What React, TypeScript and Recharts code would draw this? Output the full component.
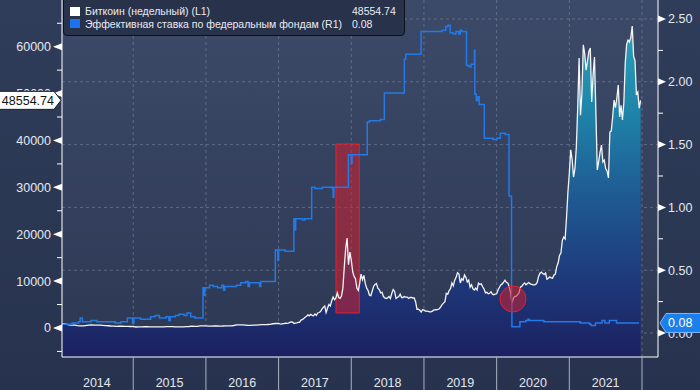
import { Area, CartesianGrid, ComposedChart, Line, ReferenceArea, ReferenceDot, XAxis, YAxis } from "recharts";

// weekly-ish bitcoin closes, spread evenly through each year
const btc2014 = [850, 900, 820, 650, 600, 620, 500, 450, 440, 520, 600, 640, 620, 600, 590, 560, 500, 480, 420, 390, 360, 370, 380, 360, 350, 320];
const btc2015 = [280, 210, 230, 240, 260, 280, 250, 225, 235, 240, 240, 250, 280, 290, 270, 230, 230, 240, 245, 280, 320, 380, 330, 360, 430, 430];
const btc2016 = [430, 390, 380, 420, 430, 415, 420, 440, 460, 450, 530, 680, 670, 660, 620, 575, 575, 600, 610, 650, 700, 730, 740, 780, 900, 960];
const btc2017 = [
  1000, 900, 830, 920, 920, 1010, 1000, 1050, 1180, 1270, 1230, 960, 1040, 1100, 1180, 1200, 1700, 1800, 2000, 2300, 2500, 2800, 2600, 2900, 2700, 2600,
  3000, 2700, 3200, 3300, 3500, 4000, 4400, 4700, 3300, 4200, 5000, 4700, 5800, 6600, 6000, 6400, 7500, 6500, 6300, 6800, 8500, 13000, 17000, 19200, 13500, 16200,
];
const btc2018 = [
  14500, 12000, 11000, 10500, 8500, 8000, 9500, 11500, 10300, 11200, 9500, 8500, 8000, 7000, 6900, 7900, 8900, 9300, 9500, 8500, 8200, 7500, 7600, 6700, 6400, 6300,
  6400, 6700, 6300, 7400, 8200, 7800, 6300, 6500, 6700, 7200, 6500, 6500, 6700, 6600, 6600, 6300, 6500, 6500, 6400, 6400, 5600, 4000, 4000, 3800, 3400, 3900,
];
const btc2019 = [
  3800, 3600, 3600, 3550, 3450, 3450, 3600, 3800, 3900, 3850, 3950, 4100, 4500, 5000, 5300, 5600, 7400, 7200, 8000, 8400, 9600, 9000, 10200, 10800, 11800, 11500,
  9600, 10500, 10200, 11300, 10800, 9800, 10200, 8700, 9200, 8400, 8100, 8500, 8100, 9600, 9300, 9400, 8800, 8300, 7500, 7600, 7300, 7400, 7700, 7200, 7100, 7200,
];
const btc2020 = [
  7300, 8100, 8700, 9200, 9400, 9800, 10200, 9700, 9600, 8800, 7500, 5300, 6400, 6700, 6800, 7100, 7500, 8700, 8900, 9300, 9600, 9200, 9500, 9700, 9400, 9300,
  9200, 9200, 9300, 9700, 11000, 11700, 11900, 11600, 11400, 11700, 10400, 10600, 10900, 10700, 10600, 11300, 11500, 13100, 13900, 15500, 16000, 18700, 19400, 19000, 23500, 29000,
];
const btc2021 = [
  33000, 38000, 36000, 32200, 34000, 38500, 47000, 57600, 45400, 50000, 60400, 58500, 55000, 57000, 59000, 59700, 48200, 54000, 57800, 46000, 33700, 35500, 37500, 39000, 35400, 35800,
  34000, 33500, 32000, 41800, 42000, 45000, 48600, 47000, 49000, 51800, 45000, 47500, 44400, 48000, 56500, 60500, 61400, 61000, 62000, 64400, 58000, 57000, 49700, 50300, 46900, 48554.74,
];
const btcYears: [number, number[]][] = [
  [2014, btc2014],
  [2015, btc2015],
  [2016, btc2016],
  [2017, btc2017],
  [2018, btc2018],
  [2019, btc2019],
  [2020, btc2020],
  [2021, btc2021],
];

// effective fed funds rate, change points (decimal years)
const ffrDates = [
  2014.0, 2014.08, 2014.16, 2014.25, 2014.27, 2014.3, 2014.42, 2014.5, 2014.58, 2014.67, 2014.75, 2014.83, 2014.92, 2014.99, 2015.01, 2015.1, 2015.17, 2015.24,
  2015.3, 2015.36, 2015.45, 2015.49, 2015.51, 2015.58, 2015.63, 2015.7, 2015.74, 2015.79, 2015.85, 2015.9, 2015.96, 2015.97, 2015.985, 2016.05, 2016.1, 2016.16,
  2016.22, 2016.245, 2016.26, 2016.35, 2016.42, 2016.48, 2016.55, 2016.58, 2016.6, 2016.66, 2016.74, 2016.755, 2016.85, 2016.955, 2016.99, 2017.0, 2017.05,
  2017.09, 2017.21, 2017.22, 2017.235, 2017.3, 2017.33, 2017.36, 2017.455, 2017.5, 2017.6, 2017.74, 2017.75, 2017.76, 2017.96, 2018.0, 2018.01, 2018.15, 2018.22,
  2018.25, 2018.4, 2018.455, 2018.5, 2018.73, 2018.75, 2018.96, 2019.0, 2019.1, 2019.25, 2019.3, 2019.33, 2019.36, 2019.4, 2019.44, 2019.48, 2019.5, 2019.52,
  2019.585, 2019.62, 2019.65, 2019.695, 2019.7, 2019.72, 2019.74, 2019.76, 2019.83, 2019.9, 2019.95, 2020.0, 2020.05, 2020.09, 2020.12, 2020.17, 2020.205,
  2020.21, 2020.28, 2020.32, 2020.4, 2020.43, 2020.45, 2020.55, 2020.65, 2020.75, 2020.85, 2020.95, 2021.05, 2021.15, 2021.28, 2021.3, 2021.33, 2021.36,
  2021.45, 2021.47, 2021.49, 2021.55, 2021.65, 2021.8, 2021.96,
];
const ffrValues = [
  0.07, 0.07, 0.08, 0.09, 0.12, 0.09, 0.1, 0.09, 0.09, 0.09, 0.08, 0.09, 0.12, 0.08, 0.12, 0.11, 0.11, 0.13,
  0.14, 0.12, 0.13, 0.1, 0.13, 0.14, 0.15, 0.14, 0.16, 0.13, 0.12, 0.12, 0.36, 0.3, 0.36, 0.38, 0.37, 0.36,
  0.38, 0.34, 0.37, 0.37, 0.38, 0.4, 0.41, 0.37, 0.4, 0.4, 0.37, 0.41, 0.41, 0.66, 0.58, 0.66, 0.66,
  0.65, 0.91, 0.82, 0.91, 0.91, 0.9, 0.91, 1.16, 1.15, 1.16, 1.15, 1.08, 1.16, 1.42, 1.35, 1.42, 1.42, 1.68,
  1.69, 1.7, 1.91, 1.91, 2.18, 2.22, 2.4, 2.4, 2.4, 2.41, 2.44, 2.45, 2.39, 2.38, 2.4, 2.38, 2.41, 2.4,
  2.13, 2.12, 2.14, 2.25, 1.9, 1.85, 1.88, 1.82, 1.55, 1.55, 1.54, 1.55, 1.59, 1.59, 1.58, 1.09, 0.25,
  0.05, 0.05, 0.09, 0.1, 0.11, 0.1, 0.1, 0.09, 0.09, 0.09, 0.09, 0.09, 0.08, 0.07, 0.06, 0.06, 0.08,
  0.1, 0.1, 0.08, 0.1, 0.08, 0.08, 0.08,
];

const btcLast = 48554.74;
const ffrLast = 0.08;

const xTicks = [2014.5, 2015, 2015.5, 2016, 2016.5, 2017, 2017.5, 2018, 2018.5, 2019, 2019.5, 2020, 2020.5, 2021, 2021.5, 2022];
const yearLines = [2015, 2016, 2017, 2018, 2019, 2020, 2021, 2022];
const leftTicks = [-5000, 0, 5000, 10000, 15000, 20000, 25000, 30000, 35000, 40000, 45000, 50000, 55000, 60000, 65000, btcLast];
const rightTicks = [0, 0.25, 0.5, 0.75, 1, 1.25, 1.5, 1.75, 2, 2.25, 2.5, ffrLast];
const rightGrid = [0, 0.5, 1, 1.5, 2, 2.5];

const btcData = btcYears.flatMap(([yr, vals]) => vals.map((v, i) => ({ t: yr + i / vals.length, btc: v })));
const ffrData = ffrDates.map((t, i) => ({ t, ffr: ffrValues[i] }));

const font = "'Liberation Sans', Arial, sans-serif";
const labelColor = "#e4e8ef";

function XTick(props: any) {
  const { x, y, payload } = props;
  const v = payload.value;
  if (Number.isInteger(v)) {
    return <line x1={x} x2={x} y1={y} y2={y + 33} stroke="#a9b1c1" strokeWidth={1} />;
  }
  return (
    <text x={x} y={y + 30} textAnchor="middle" fill={labelColor} fontSize={12.5} fontFamily={font}>
      {Math.floor(v)}
    </text>
  );
}

function LeftTick(props: any) {
  const { x, y, payload } = props;
  const v = payload.value;
  if (v === btcLast) {
    return (
      <g>
        <polygon
          points={`${x - 63},${y - 9} ${x - 8},${y - 9} ${x - 1},${y} ${x - 8},${y + 9} ${x - 63},${y + 9}`}
          fill="#ffffff"
          stroke="#1a1f2b"
        />
        <text x={x - 8} y={y + 4.5} textAnchor="end" fill="#111" fontSize={12.5} fontFamily={font}>
          {v.toFixed(2)}
        </text>
      </g>
    );
  }
  if (v % 10000 === 0) {
    return (
      <g>
        <polygon points={`${x - 9},${y} ${x},${y - 3.5} ${x},${y + 3.5}`} fill="#ffffff" />
        <text x={x - 11} y={y + 4.5} textAnchor="end" fill={labelColor} fontSize={12.5} fontFamily={font}>
          {v}
        </text>
      </g>
    );
  }
  return <line x1={x - 5} x2={x} y1={y} y2={y} stroke="#ffffff" />;
}

function RightTick(props: any) {
  const { x, y, payload } = props;
  const v = payload.value;
  if (v === ffrLast) {
    return (
      <g>
        <polygon
          points={`${x + 2},${y} ${x + 8},${y - 9.5} ${x + 45},${y - 9.5} ${x + 45},${y + 9.5} ${x + 8},${y + 9.5}`}
          fill="#1b7fec"
          stroke="#7db8ff"
        />
        <text x={x + 10} y={y + 4.5} fill="#ffffff" fontSize={12.5} fontFamily={font}>
          {v.toFixed(2)}
        </text>
      </g>
    );
  }
  if (Math.round(v * 100) % 50 === 0) {
    return (
      <g>
        <polygon points={`${x},${y - 3.5} ${x + 8},${y} ${x},${y + 3.5}`} fill="#ffffff" />
        <text x={x + 10} y={y + 4.5} fill={labelColor} fontSize={12.5} fontFamily={font}>
          {v.toFixed(2)}
        </text>
      </g>
    );
  }
  return <line x1={x} x2={x + 5} y1={y} y2={y} stroke="#ffffff" />;
}

const legendText = { position: "absolute" as const, fontSize: 10.5, lineHeight: "13px", color: "#e8ecf2", whiteSpace: "nowrap" as const };

export default function App() {
  return (
    <div
      style={{
        position: "absolute",
        left: 0,
        top: 0,
        width: 700,
        height: 390,
        overflow: "hidden",
        background: "linear-gradient(#2f3d5a, #27334e)",
        fontFamily: font,
      }}
    >
      <ComposedChart width={700} height={390} margin={{ top: 0, right: 0, bottom: 0, left: 0 }}>
        <defs>
          <linearGradient id="plotBg" x1="0" y1="0" x2="0" y2="1">
            <stop offset="0%" stopColor="#3c4a69" />
            <stop offset="100%" stopColor="#2d3853" />
          </linearGradient>
          <linearGradient id="btcFill" gradientUnits="userSpaceOnUse" x1="0" y1="0" x2="0" y2="357">
            <stop offset="0%" stopColor="#2fa7c0" />
            <stop offset="30%" stopColor="#1f86aa" />
            <stop offset="55%" stopColor="#1f5a92" />
            <stop offset="80%" stopColor="#1e3779" />
            <stop offset="100%" stopColor="#1b2160" />
          </linearGradient>
        </defs>
        <CartesianGrid
          yAxisId="right"
          fill="url(#plotBg)"
          fillOpacity={1}
          stroke="none"
          horizontalValues={rightGrid}
          verticalValues={yearLines}
        />
        <XAxis
          dataKey="t"
          type="number"
          domain={[2014.02, 2022.22]}
          allowDataOverflow
          ticks={xTicks}
          interval={0}
          tick={<XTick />}
          tickLine={false}
          tickSize={0}
          tickMargin={0}
          height={33}
          axisLine={{ stroke: "#ffffff" }}
        />
        <YAxis
          yAxisId="left"
          orientation="left"
          width={62}
          domain={[-6190, 69960]}
          allowDataOverflow
          ticks={leftTicks}
          interval={0}
          tick={<LeftTick />}
          tickLine={false}
          tickSize={0}
          tickMargin={0}
          axisLine={{ stroke: "#ffffff" }}
        />
        <YAxis
          yAxisId="right"
          orientation="right"
          width={42}
          domain={[-0.191, 2.651]}
          allowDataOverflow
          ticks={rightTicks}
          interval={0}
          tick={<RightTick />}
          tickLine={false}
          tickSize={0}
          tickMargin={0}
          axisLine={{ stroke: "#ffffff" }}
        />
        <Area
          yAxisId="left"
          data={btcData}
          dataKey="btc"
          type="linear"
          stroke="none"
          fill="url(#btcFill)"
          fillOpacity={1}
          baseValue={-6190}
          isAnimationActive={false}
        />
        <CartesianGrid
          yAxisId="right"
          fill="none"
          stroke="#6d7893"
          strokeDasharray="3 3"
          strokeOpacity={0.75}
          horizontalValues={rightGrid}
          verticalValues={yearLines}
        />
        <Line
          yAxisId="left"
          data={btcData}
          dataKey="btc"
          type="linear"
          stroke="#f4f4f4"
          strokeWidth={1.3}
          dot={false}
          isAnimationActive={false}
        />
        <Line
          yAxisId="right"
          data={ffrData}
          dataKey="ffr"
          type="stepAfter"
          stroke="#2479e8"
          strokeWidth={1.5}
          dot={false}
          isAnimationActive={false}
        />
        <ReferenceArea
          yAxisId="left"
          x1={2017.79}
          x2={2018.11}
          y1={3200}
          y2={39250}
          fill="#d01f2d"
          fillOpacity={0.55}
          stroke="#e8202f"
          strokeOpacity={1}
        />
        <ReferenceDot
          yAxisId="left"
          x={2020.225}
          y={6190}
          r={13}
          fill="#d01f2d"
          fillOpacity={0.55}
          stroke="#e8202f"
        />
      </ComposedChart>

      <div
        style={{
          position: "absolute",
          left: 63,
          top: -4,
          width: 342,
          height: 40,
          boxSizing: "border-box",
          background: "#28324b",
          border: "1px solid #0c1018",
          borderRadius: 4,
        }}
      />
      <div style={{ position: "absolute", left: 70, top: 7, width: 10, height: 9, background: "#ffffff" }} />
      <div style={{ position: "absolute", left: 70, top: 19, width: 10, height: 9, background: "#1a73f0" }} />
      <div style={{ ...legendText, left: 85, top: 5 }}>Биткоин (недельный) (L1)</div>
      <div style={{ ...legendText, left: 85, top: 17.5 }}>Эффективная ставка по федеральным фондам (R1)</div>
      <div style={{ ...legendText, left: 352, top: 5 }}>{btcLast.toFixed(2)}</div>
      <div style={{ ...legendText, left: 352, top: 17.5 }}>{ffrLast.toFixed(2)}</div>
    </div>
  );
}
